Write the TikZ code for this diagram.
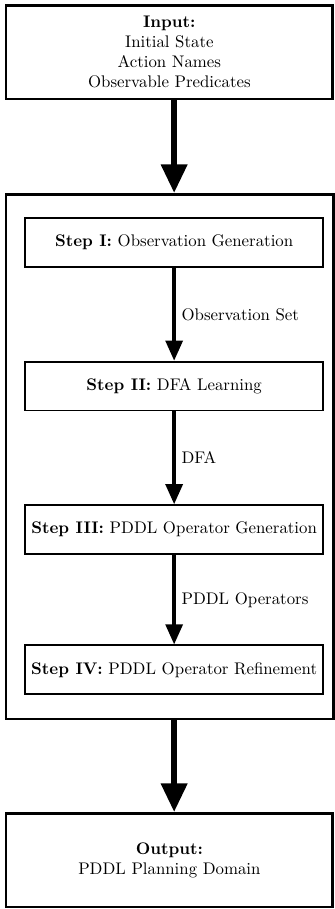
\documentclass[tikz,border=0pt]{standalone}
\usetikzlibrary{arrows.meta,fit}

\tikzstyle{io} = [rectangle, draw, line width=1.5pt, minimum width=6.82cm, minimum height=1.96cm, align=center]
\tikzstyle{block} = [rectangle, draw, line width=1.1pt, minimum width=6.23cm, minimum height=1.02cm, text centered]
\tikzstyle{frame} = [rectangle, draw, line width=1.5pt, inner sep=0pt]
\tikzstyle{bigline} = [draw, -{Triangle[length=17pt,width=15pt]}, line width=3.6pt]
\tikzstyle{line} = [draw, -{Triangle[length=12pt,width=10pt]}, line width=2.2pt]
\pgfdeclarelayer{background}
\pgfsetlayers{background,main}

\begin{document}
\begin{tikzpicture}[node distance = 3cm, auto]

    % page size
    \useasboundingbox (0,0) rectangle (6.99,-19.0);

    % Input
    \node [io] (input) at (3.54,-1.09) {\textbf{Input:}\\Initial State\\Action Names\\Observable Predicates};

    % Step I
    \node [block, below of=input, node distance=3.98cm, xshift=0.1cm
            ] (step1) {\textbf{Step I:} Observation Generation};
    % Step II
    \node [block, below of=step1] (step2) {\textbf{Step II:} DFA Learning};
    % Step III
    \node [block, below of=step2] (step3) {\textbf{Step III:} PDDL Operator Generation};
    % Step IV
    \node [block, below of=step3, node distance=2.93cm
            ] (step4) {\textbf{Step IV:} PDDL Operator Refinement};

    % Output
    \node [io, below of=input, node distance=16.89cm
            ] (output) {\textbf{Output:}\\PDDL Planning Domain};

    % frame round the steps
    \path (step1.north west)+(-0.38,0.48) coordinate (g);
    \path (step4.south east)+(0.2,-0.5) coordinate (h);
    \begin{pgfonlayer}{background}
        \node [frame, fit=(g)(h)] (pipeline) {};
    \end{pgfonlayer}

    % Path
    \path[bigline] (input.south -| step1) -- (pipeline.north -| step1);
    \path[line] (step1) -- node {Observation Set} (step2);
    \path[line] (step2) -- node {DFA} (step3);
    \path[line] (step3) -- node {PDDL Operators} (step4);
    \path[bigline] (pipeline.south -| step1) -- (output.north -| step1);

\end{tikzpicture}
\end{document}
